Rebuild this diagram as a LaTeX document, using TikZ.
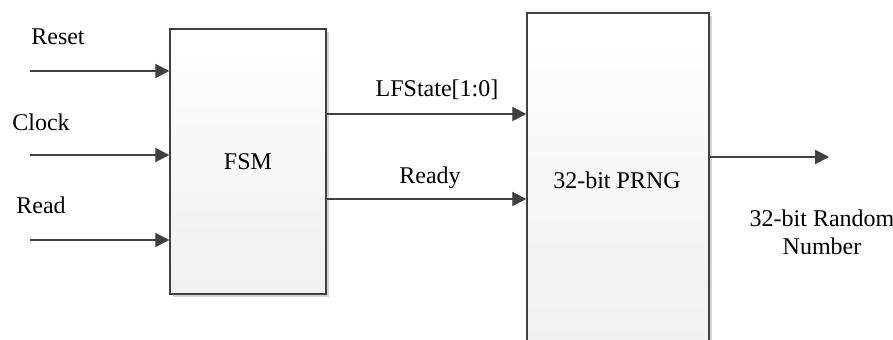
\documentclass[tikz,border=0pt]{standalone}
\usepackage{fontspec}
\setmainfont{Liberation Serif}
\usetikzlibrary{arrows.meta,shadows}
\definecolor{edge}{HTML}{404040}
\definecolor{shade}{HTML}{D4D4D4}
\begin{document}
\begin{tikzpicture}[x=0.5pt,y=-0.5pt,
  font=\fontsize{12}{14}\selectfont,
  block/.style={draw=edge, line width=0.75pt, rectangle, inner sep=0pt,
    top color=white, bottom color=black!6,
    drop shadow={shadow xshift=1.5pt, shadow yshift=-1.5pt, fill=shade, opacity=1}},
  sig/.style={draw=edge, line width=1pt, -{Triangle[length=7pt,width=7pt]}},
  sigshadow/.style={draw=shade, line width=1pt, -{Triangle[length=7pt,width=7pt]}},
  lbl/.style={inner sep=0pt, text=black}]
\clip (0,0) rectangle (893,340);
\fill[white] (0,0) rectangle (893,340);

% blocks
\node[block, minimum width=78pt, minimum height=132.5pt] (fsm) at (248,161.5) {FSM};
\node[block, minimum width=91pt, minimum height=167.5pt] (prng) at (618,180.5) {};
\node[lbl] (prnglbl) at (617,180) {32-bit PRNG};

% input ends
\coordinate (rst) at (30,71);
\coordinate (clk) at (30,155);
\coordinate (rd)  at (30,240);
\coordinate (lfs) at (326,114);
\coordinate (rdy) at (326,199);
\coordinate (out) at (829,157);

% faint shadows under the wires
\begin{scope}[shift={(2,3)}]
  \draw[sigshadow] (rst) -- (rst -| fsm.west);
  \draw[sigshadow] (clk) -- (clk -| fsm.west);
  \draw[sigshadow] (rd)  -- (rd -| fsm.west);
  \draw[sigshadow] (lfs -| fsm.east) -- (lfs -| prng.west);
  \draw[sigshadow] (rdy -| fsm.east) -- (rdy -| prng.west);
  \draw[sigshadow] (out -| prng.east) -- (out);
\end{scope}

% wires
\draw[sig] (rst) -- (rst -| fsm.west);
\draw[sig] (clk) -- (clk -| fsm.west);
\draw[sig] (rd)  -- (rd -| fsm.west);
\draw[sig] (lfs -| fsm.east) -- (lfs -| prng.west);
\draw[sig] (rdy -| fsm.east) -- (rdy -| prng.west);
\draw[sig] (out -| prng.east) -- (out);

% labels
\node[lbl] (lrst) at (58,37) {Reset};
\node[lbl] (lclk) at (41,122) {Clock};
\node[lbl] (lrd)  at (41,205) {Read};
\node[lbl] (llfs) at (437,90) {LFState[1:0]};
\node[lbl] (lrdy) at (430,178) {Ready};
\node[lbl, align=center] (lout) at (822,232) {32-bit Random\\Number};
\end{tikzpicture}
\end{document}
